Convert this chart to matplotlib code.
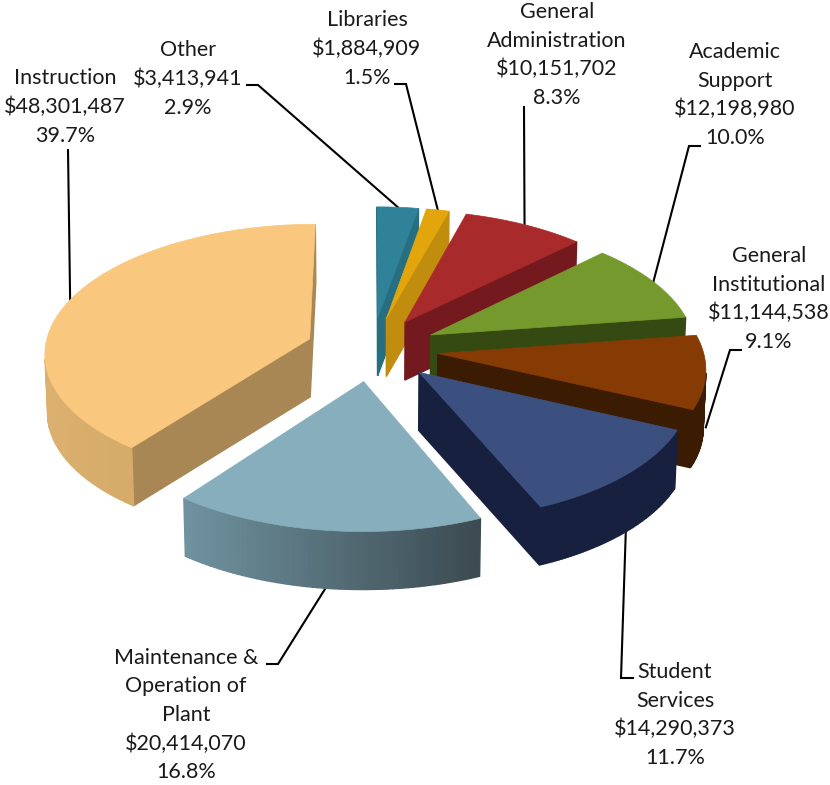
import numpy as np
import matplotlib
matplotlib.use('Agg')
from matplotlib import pyplot as plt
from matplotlib.patches import Polygon

names = ['Other', 'Libraries', 'General\nAdministration', 'Academic\nSupport',
         'General\nInstitutional', 'Student\nServices',
         'Maintenance &\nOperation of\nPlant', 'Instruction']
values = [3413941, 1884909, 10151702, 12198980, 11144538, 14290373, 20414070, 48301487]
percents = ['2.9%', '1.5%', '8.3%', '10.0%', '9.1%', '11.7%', '16.8%', '39.7%']

top_colors = ['#2f8297', '#e3a50c', '#a92a2a', '#76992e', '#853b03', '#3c507f', '#87aebd', '#f9c77e']
side_colors = ['#276f80', '#c18d0e', '#741a1f', '#354a12', '#3b1b02', '#17203e', '#6d8f9c', '#a98755']
# arc wall colours, left end / right end
arc_left = ['#276f80', '#c18d0e', '#741a1f', '#354a12', '#3b1b02', '#17203e', '#6f929f', '#dcb06e']
arc_right = ['#276f80', '#c18d0e', '#741a1f', '#354a12', '#3b1b02', '#17203e', '#3b4a50', '#c6a061']

# label block centres
label_pos = [(188, 79), (367, 49), (557, 55), (735, 95), (769, 299), (675, 715), (186, 715), (65, 107)]
# leader line from the label, the last point is on the slice
leaders = [[(247, 85), (258, 85)], [(395, 84), (406, 84)], [(524, 107)], [(700, 146), (689, 146)],
           [(741, 350), (730, 350)], [(633, 678), (621, 678)], [(267, 664), (278, 664)], [(68, 150)]]
leader_drop = [0, 0, 0, 0, 0.95, 1, 1, 0]

# view of the pie
cx, cy = 372, 349
rx, ry = 265, 128
persp = 0.1
explode = 0.25
depth = 58


def project(u, v):
    s = 1 / (1 + persp * v)
    return cx + rx * u * s, cy - ry * v * s


def lighter(c1, c2, t):
    a = np.array(matplotlib.colors.to_rgb(c1))
    b = np.array(matplotlib.colors.to_rgb(c2))
    return a + (b - a) * t


fig = plt.figure(figsize=(8.3, 7.85), dpi=100)
ax = fig.add_axes([0, 0, 1, 1])
ax.set_xlim(0, 830)
ax.set_ylim(785, 0)
ax.axis('off')
plt.rcParams['font.family'] = ['Lato', 'DejaVu Sans']

fractions = np.array(values) / sum(values)
edges = np.concatenate([[0], np.cumsum(fractions)]) * 2 * np.pi
arc_ends = []

for i in range(len(values)):
    mid = (edges[i] + edges[i + 1]) / 2
    ou, ov = explode * np.sin(mid), explode * np.cos(mid)
    t = np.linspace(edges[i], edges[i + 1], 60)
    ax0, ay0 = project(ou, ov)
    xs, ys = project(ou + np.sin(t), ov + np.cos(t))
    arc_ends.append(project(ou + np.sin(mid), ov + np.cos(mid)))

    # walls, slight convergence of the verticals
    ring_x = np.concatenate([[ax0], xs])
    ring_y = np.concatenate([[ay0], ys])
    bot_x = ring_x + (cx - ring_x) * 0.008
    bot_y = ring_y + depth
    n = len(ring_x)
    xmin, xmax = xs.min(), xs.max()
    for j in range(n):
        k = (j + 1) % n
        quad = np.array([[ring_x[j], ring_y[j]], [ring_x[k], ring_y[k]],
                         [bot_x[k], bot_y[k]], [bot_x[j], bot_y[j]]])
        area = 0.5 * np.sum(quad[:, 0] * np.roll(quad[:, 1], -1) - np.roll(quad[:, 0], -1) * quad[:, 1])
        if area >= 0:
            continue
        if j == 0 or k == 0:
            col = side_colors[i]
        else:
            col = lighter(arc_left[i], arc_right[i], ((ring_x[j] + ring_x[k]) / 2 - xmin) / (xmax - xmin))
        ax.add_patch(Polygon(quad, closed=True, facecolor=col, edgecolor=col, linewidth=1.0, zorder=2 * i + 1))

    ax.add_patch(Polygon(np.column_stack([ring_x, ring_y]), closed=True, facecolor=top_colors[i],
                         edgecolor=top_colors[i], linewidth=0.5, zorder=2 * i + 2))

for i in range(len(values)):
    text = '%s\n$%s\n%s' % (names[i], format(values[i], ','), percents[i])
    ax.text(label_pos[i][0], label_pos[i][1], text, ha='center', va='center', fontsize=15.5,
            linespacing=1.52, color='#1a1a1a', zorder=30)
    px = [p[0] for p in leaders[i]] + [arc_ends[i][0]]
    py = [p[1] for p in leaders[i]] + [arc_ends[i][1] + leader_drop[i] * depth]
    ax.plot(px, py, color='black', linewidth=1.5, solid_joinstyle='miter', zorder=1)

fig.savefig('out.png', dpi=100)
